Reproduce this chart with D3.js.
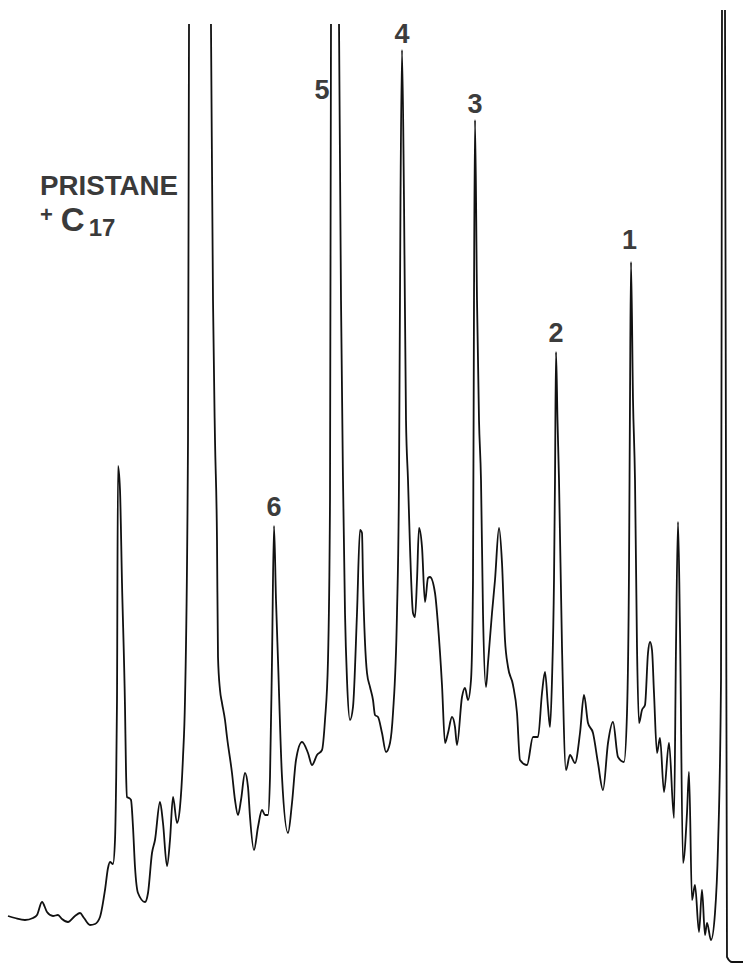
<!DOCTYPE html>
<html lang="en">
<head>
<meta charset="UTF-8"/>
<title>Chromatogram</title>
<script src="https://d3js.org/d3.v7.min.js"></script>
<style>
  body { margin: 0; background: #fff; }
  svg { display: block; }
</style>
</head>
<body>
<script>
    //define dimensions of the chart
    var w = 744;
    var h = 964;

    //retention position along the trace (chart units)
    var retention = [
        8, 15, 25, 33, 37, 42, 47, 53, 58, 62, 68, 75, 80, 84, 90, 95, 100, 105, 108, 110,
        113, 115, 116, 117, 118, 120, 122, 125, 126, 127, 129, 131, 133, 135, 138, 145, 148, 152, 155, 160,
        163, 167, 170, 173, 177, 180, 183, 185, 188, 189, 190, 200, 210, 211, 213, 215, 217, 218, 220, 222,
        225, 227, 232, 235, 238, 241, 245, 248, 250, 254, 258, 262, 265, 268, 270, 272, 274, 276, 278, 282,
        288, 292, 296, 302, 308, 312, 317, 322, 325, 328, 330, 331, 332, 335, 338, 339, 341, 343, 345, 347,
        350, 353, 357, 360, 362, 363, 367, 370, 373, 375, 378, 382, 386, 390, 393, 397, 399, 400.5, 402, 404,
        406, 408, 410, 413, 415, 417, 419, 422, 425, 428, 430, 435, 438, 442, 445, 448, 452, 455, 457, 462,
        465, 468, 471, 473, 474, 475, 477, 479, 481, 483, 486, 488, 492, 495, 499, 502, 505, 508, 513, 517,
        520, 527, 533, 538, 542, 545, 548, 550, 552, 554, 555, 556, 557.5, 559, 562, 566, 570, 575, 580, 584,
        588, 593, 598, 603, 608, 613, 618, 624, 627, 629, 630, 631, 633, 635, 637, 639, 642, 645, 648, 650,
        652, 654, 657, 660, 664, 669, 674, 676, 678, 680, 683, 687, 689, 692, 695, 699, 702, 705, 707, 711,
        715, 718, 721, 722, 722.5, 723.5, 724.5, 725, 726, 727, 732, 743
    ];

    //detector response (chart units, baseline near 40, off-scale peaks exceed 964)
    var response = [
        48, 46, 44, 46, 49, 62, 52, 48, 49, 45, 42, 48, 51, 46, 39, 40, 47, 74, 96, 102,
        100, 124, 174, 264, 498, 474, 381, 257, 194, 167, 166, 164, 137, 97, 71, 62, 71, 111, 124, 162,
        141, 98, 124, 167, 141, 157, 207, 264, 524, 937, 1064, 1664, 1064, 937, 664, 524, 424, 307, 274, 261,
        244, 227, 191, 164, 149, 164, 191, 177, 147, 114, 137, 154, 149, 149, 187, 304, 438, 364, 304, 187,
        131, 161, 204, 222, 211, 199, 209, 214, 244, 304, 464, 942, 1064, 1764, 1064, 942, 664, 484, 351, 284,
        244, 257, 351, 434, 431, 384, 291, 277, 264, 249, 247, 231, 212, 221, 251, 351, 484, 764, 914, 764,
        544, 484, 417, 351, 347, 384, 436, 417, 362, 386, 387, 371, 339, 279, 221, 231, 247, 237, 219, 267,
        276, 264, 284, 384, 664, 844, 664, 544, 484, 351, 277, 301, 351, 384, 436, 401, 324, 297, 279, 251,
        204, 199, 227, 227, 271, 292, 257, 237, 284, 384, 484, 612, 544, 484, 317, 194, 209, 201, 231, 269,
        241, 231, 201, 174, 221, 242, 207, 202, 251, 394, 564, 702, 564, 484, 317, 241, 254, 259, 311, 322,
        314, 271, 211, 226, 172, 221, 146, 317, 442, 334, 101, 151, 192, 64, 79, 32, 74, 29, 41, 24,
        51, 117, 284, 954, 1200, 1764, 1200, 954, 484, 7, 2, 2
    ];

    //peak labels and the retention of the peak they mark
    var peakLabels = ["1", "2", "3", "4", "5", "6"];
    var peakRetention = [631, 556, 475, 402, 335, 274];

    //define scales
    var xScale = d3.scaleLinear()
        .domain([0, 744])
        .range([0, w]);

    var yScale = d3.scaleLinear()
        .domain([0, 964])
        .range([h, 0]);

    //create SVG element
    var svg = d3.select("body")
        .append("svg")
        .attr("width", w)
        .attr("height", h);

    //recorder paper cuts the off-scale peaks
    var clip = svg.append("clipPath").attr("id", "paper");
    clip.append("rect").attr("x", 0).attr("y", 24).attr("width", 700).attr("height", h - 24);
    clip.append("rect").attr("x", 700).attr("y", 10).attr("width", w - 700).attr("height", h - 10);

    var points = retention.map(function (d, i) { return [d, response[i]]; });

    var line = d3.line()
        .x(function (d) { return xScale(d[0]); })
        .y(function (d) { return yScale(d[1]); })
        .curve(d3.curveMonotoneX);

    svg.append("path")
        .datum(points)
        .attr("clip-path", "url(#paper)")
        .attr("fill", "none")
        .attr("stroke", "#111")
        .attr("stroke-width", 1.8)
        .attr("stroke-linejoin", "round")
        .attr("d", line);

    //numbered peak labels above each apex
    function apexOf(r) {
        var i = d3.minIndex(retention, function (d) { return Math.abs(d - r); });
        return response[i];
    }

    svg.selectAll("text.peak")
        .data(peakLabels)
        .enter()
        .append("text")
        .attr("class", "peak")
        .attr("x", function (d, i) {
            if (d === "5") return xScale(peakRetention[i]) - 13;
            return xScale(peakRetention[i]) - (d === "1" ? 1.5 : 0);
        })
        .attr("y", function (d, i) {
            if (d === "5") return 99;
            var gap = (d === "1") ? 13 : (d === "3" || d === "4") ? 7 : 10;
            return yScale(apexOf(peakRetention[i])) - gap;
        })
        .attr("text-anchor", "middle")
        .attr("font-family", "Liberation Sans, Arial, sans-serif")
        .attr("font-size", "27px")
        .attr("font-weight", "bold")
        .attr("fill", "#3c3c3c")
        .text(function (d) { return d; });

    //pristane + C17 label
    var lab = svg.append("g")
        .attr("font-family", "Liberation Sans, Arial, sans-serif")
        .attr("font-weight", "bold")
        .attr("fill", "#3a3a3a");

    lab.append("text")
        .attr("x", 40)
        .attr("y", 195)
        .attr("font-size", "27px")
        .attr("textLength", 138)
        .attr("lengthAdjust", "spacingAndGlyphs")
        .text("PRISTANE");

    var sub = lab.append("text")
        .attr("x", 40)
        .attr("y", 231);

    sub.append("tspan")
        .attr("font-size", "22px")
        .attr("dy", -9)
        .text("+");

    sub.append("tspan")
        .attr("font-size", "33px")
        .attr("dy", 9)
        .attr("dx", 8)
        .text("C");

    sub.append("tspan")
        .attr("font-size", "24px")
        .attr("dy", 5)
        .attr("dx", 4)
        .text("17");
</script>
</body>
</html>
